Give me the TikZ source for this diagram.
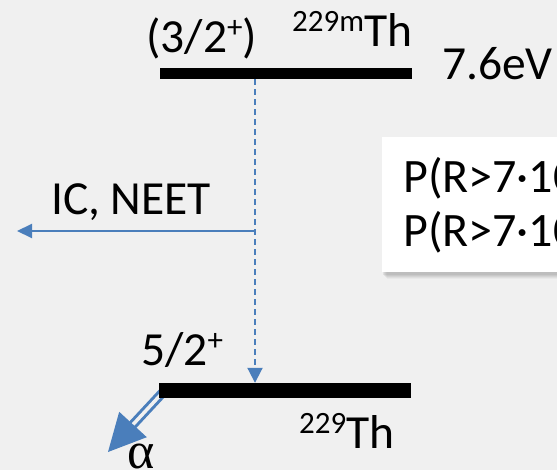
\documentclass[tikz,border=0pt]{standalone}
\usepackage{fontspec}
\setmainfont{Carlito}
\newfontfamily\greekfont{Liberation Serif}
\usetikzlibrary{arrows.meta,calc}
\definecolor{bg}{HTML}{F0F0F0}
\definecolor{lineblue}{HTML}{4A7EBB}
\definecolor{shadowgray}{HTML}{808080}

% raised small text for nuclear mass numbers and parities
\newcommand\supx[1]{\raisebox{15pt}{\fontsize{31}{31}\selectfont #1}}

\begin{document}
\begin{tikzpicture}[x=1pt,y=-1pt,
  lbl/.style={anchor=base west, inner sep=0pt, font=\fontsize{47.5}{50}\selectfont},
  boxtxt/.style={anchor=base west, inner sep=0pt, font=\fontsize{48}{52}\selectfont},
  levelbar/.style={fill=black, draw=none, inner sep=0pt, minimum width=252pt},
  transition/.style={lineblue, line width=2pt, dash pattern=on 6pt off 4pt,
    -{Triangle[length=15pt,width=15pt]}},
  conversion/.style={lineblue, line width=2pt, -{Triangle[length=15pt,width=14pt]}},
  decayshaft/.style={lineblue, line width=3pt, double=bg, double distance=3.5pt}]

\fill[bg] (0,0) rectangle (557,470);
\useasboundingbox (0,0) rectangle (557,470);

\begin{scope}
\clip (0,0) rectangle (557,470);

% probability box with soft shadow
\foreach \o/\a in {7/0.07,6/0.09,5/0.11,4/0.13,3/0.15}
  \fill[shadowgray, opacity=\a] (382+\o-2,137+\o) rectangle (620,272+\o);
\fill[white] (382,137) rectangle (620,272);
\node[boxtxt] (p1) at (403,193) {P(R>7·10};
\node[boxtxt] (p2) at (403,247) {P(R>7·10};

% alpha decay arrow (shaft first, so the level bar covers its start)
\coordinate (astart) at (166,389);
\coordinate (abase) at (133,424.5);
\coordinate (atip) at (108,452);
\coordinate (aleft) at (119.2,411.8);
\coordinate (aright) at (146.8,437.2);
\draw[decayshaft] (astart) -- ($(abase)!-2pt!(astart)$);
\fill[lineblue] (aleft) -- (atip) -- (aright) -- cycle;

% nuclear levels
\node[levelbar, minimum height=11pt] (upper) at (286,73.5) {};
\node[levelbar, minimum height=15pt] (lower) at (284.5,390.5) {};

% isomeric transition and internal conversion
\coordinate (drop) at (255,0);
\coordinate (branch) at (255,231);
\coordinate (icend) at (17,231);
\draw[transition] (upper.south -| drop) -- (lower.north -| drop);
\draw[conversion] (branch) -- (icend);

% labels
\node[lbl] (spinup) at (146,53) {(3/2\supx{+})};
\node[lbl] (isomer) at (292,47) {\supx{229m}Th};
\node[lbl] (energy) at (442,80) {7.6eV};
\node[lbl] (icneet) at (51,215) {IC, NEET};
\node[lbl] (spinlow) at (141,366) {5/2\supx{+}};
\node[lbl] (ground) at (299,448) {\supx{229}Th};
\node[anchor=base west, inner sep=0pt, font=\greekfont\fontsize{52}{54}\selectfont] (alpha) at (127,468) {α};
\end{scope}
\end{tikzpicture}
\end{document}
